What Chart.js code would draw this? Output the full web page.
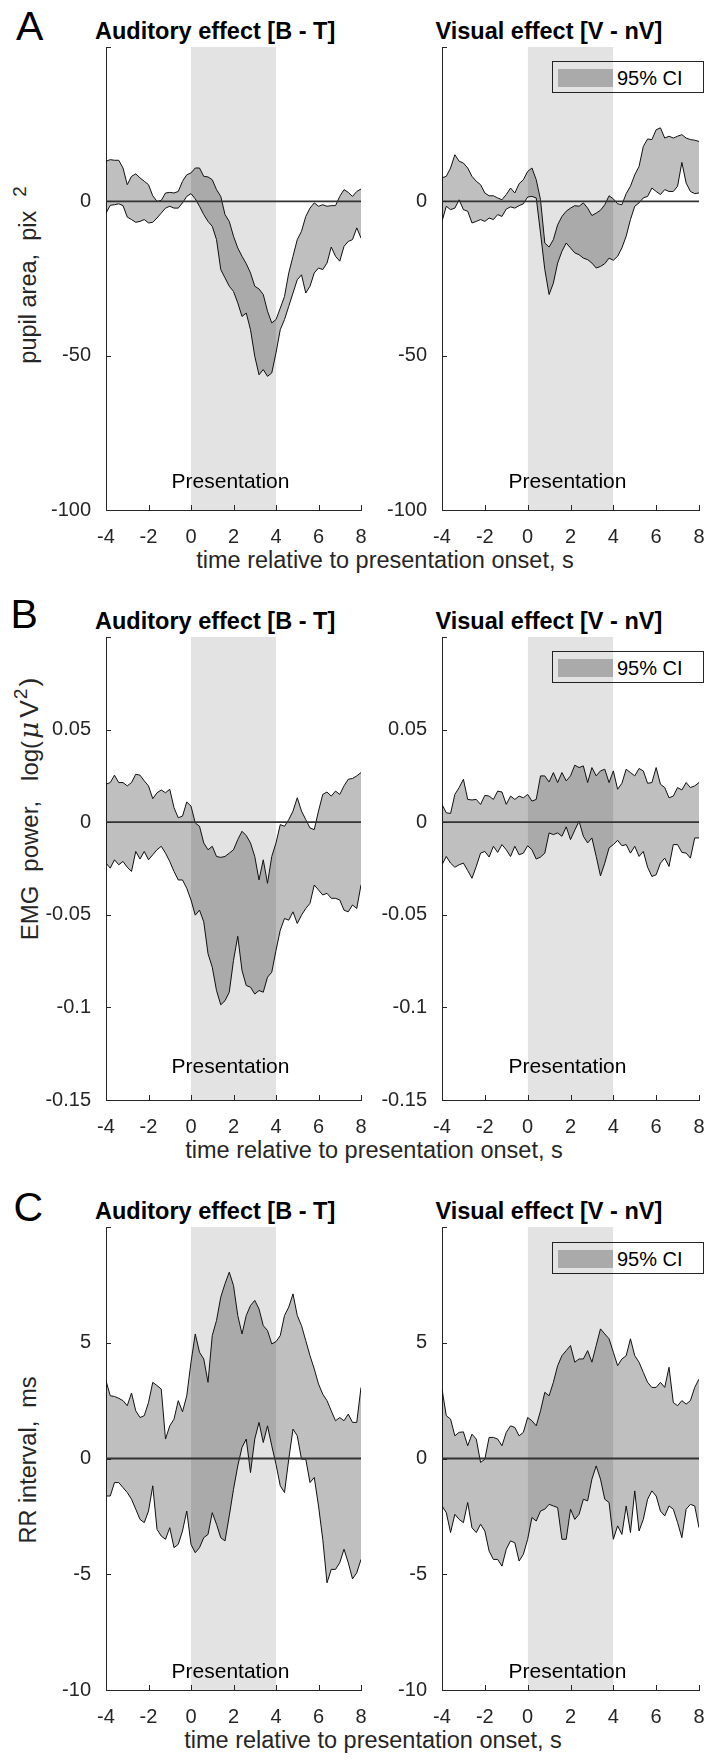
<!DOCTYPE html>
<html>
<head>
<meta charset="utf-8">
<title>Auditory and visual effects</title>
<script src="https://cdn.jsdelivr.net/npm/chart.js@4.4.1/dist/chart.umd.min.js"></script>
<style>
  html, body { margin: 0; padding: 0; background: #fff; }
  body { position: relative; width: 709px; height: 1763px; overflow: hidden;
         font-family: "Liberation Sans", Arial, sans-serif; color: #000; }
  canvas { position: absolute; }
  .txt { position: absolute; white-space: pre; line-height: 1; }
  .letter { font-size: 41px; }
  .title { font-size: 23.5px; font-weight: bold; }
  .xlab { font-size: 23.5px; color: #262626; transform: translateX(-50%); }
  .ylab { font-size: 23.5px; color: #262626; transform: translate(-50%, -50%) rotate(-90deg); }
  .sup { position: relative; top: -0.55em; font-size: 0.8em; }
  .mu { font-family: "DejaVu Serif", serif; font-style: italic; }
  .legend { position: absolute; box-sizing: border-box; width: 152px; height: 32px;
            border: 1px solid #262626; background: #fff; }
  .legend .patch { position: absolute; left: 5px; top: 6.6px; width: 55px; height: 18.4px; background: #bfbfbf; }
  .legend .lt { position: absolute; left: 64px; top: 5.5px; font-size: 20px; line-height: 1; white-space: pre; }
</style>
</head>
<body>

<div class="txt letter" style="left:16px; top:6px;">A</div>
<div class="txt letter" style="left:10.5px; top:594px;">B</div>
<div class="txt letter" style="left:13.5px; top:1187px;">C</div>

<div class="txt title" style="left:95px; top:20px;">Auditory effect [B - T]</div>
<div class="txt title" style="left:435.5px; top:20px;">Visual effect [V - nV]</div>
<div class="txt title" style="left:95px; top:610px;">Auditory effect [B - T]</div>
<div class="txt title" style="left:435.5px; top:610px;">Visual effect [V - nV]</div>
<div class="txt title" style="left:95px; top:1200px;">Auditory effect [B - T]</div>
<div class="txt title" style="left:435.5px; top:1200px;">Visual effect [V - nV]</div>

<div class="txt ylab" style="left:28.7px; top:275px;">pupil area,  pix<span class="sup" style="margin-left:14px;">2</span></div>
<div class="txt ylab" style="left:28.7px; top:809px; font-size:24px;">EMG<span style="margin-left:14px;">power,</span><span style="margin-left:20px;">log(</span><span class="mu" style="margin-left:2px; font-size:1.1em;">μ</span><span style="margin-left:4px; font-size:1.1em;">V</span><span class="sup" style="margin-left:1px;">2</span><span style="margin-left:2px; font-size:1.1em;">)</span></div>
<div class="txt ylab" style="left:28.7px; top:1460px;">RR interval,  ms</div>

<div class="txt xlab" style="left:385px; top:549px;">time relative to presentation onset, s</div>
<div class="txt xlab" style="left:374px; top:1139px;">time relative to presentation onset, s</div>
<div class="txt xlab" style="left:373px; top:1729px;">time relative to presentation onset, s</div>

<div class="legend" style="left:552px; top:61px;"><div class="patch"></div><div class="lt">95% CI</div></div>
<div class="legend" style="left:552px; top:651px;"><div class="patch"></div><div class="lt">95% CI</div></div>
<div class="legend" style="left:552px; top:1242px;"><div class="patch"></div><div class="lt">95% CI</div></div>

<script>
// time axis, seconds relative to presentation onset
const time = [-4, -3.8, -3.6, -3.4, -3.2, -3, -2.8, -2.6, -2.4, -2.2,
              -2, -1.8, -1.6, -1.4, -1.2, -1, -0.8, -0.6, -0.4, -0.2,
              0, 0.2, 0.4, 0.6, 0.8, 1, 1.2, 1.4, 1.6, 1.8,
              2, 2.2, 2.4, 2.6, 2.8, 3, 3.2, 3.4, 3.6, 3.8,
              4, 4.2, 4.4, 4.6, 4.8, 5, 5.2, 5.4, 5.6, 5.8,
              6, 6.2, 6.4, 6.6, 6.8, 7, 7.2, 7.4, 7.6, 7.8, 8];

// A: pupil area, pix^2 (upper / lower 95% CI)
const pupilAudUpper = [13.0, 13.5, 13.3, 13.3, 10.8, 5.4, 8.1, 8.9, 7.6, 6.5,
                       5.4, 1.8, 0.0, 0.3, 2.7, 2.9, 2.7, 3.2, 6.5, 8.6,
                       9.2, 10.8, 10.8, 8.1, 7.9, 7.0, 3.8, 1.6, -4.3, -6.5,
                       -11.3, -15.1, -17.8, -20.2, -23.2, -27.5, -28.4, -30.2, -35.6, -39.4,
                       -38.3, -34.6, -30.8, -23.2, -17.8, -12.4, -9.7, -4.9, -2.2, -0.5,
                       -1.6, -1.1, -1.6, -1.4, -1.4, 1.6, 3.8, 2.9, 1.6, 3.2, 4.0];
const pupilAudLower = [-3.8, -1.3, -1.1, -0.8, -1.4, -5.1, -5.9, -6.8, -6.5, -5.9,
                       -7.0, -6.8, -5.4, -3.8, -2.2, -1.6, -2.2, -2.2, -0.5, 1.6,
                       2.5, 0.8, -1.6, -4.3, -6.5, -8.1, -12.4, -22.1, -24.8, -27.5,
                       -29.2, -32.9, -37.3, -36.2, -41.6, -50.2, -56.2, -54.5, -56.7, -55.6,
                       -49.1, -41.6, -38.3, -34.0, -29.7, -25.4, -23.8, -29.7, -27.5, -23.2,
                       -21.6, -22.1, -20.0, -14.8, -17.8, -19.4, -14.6, -13.0, -12.4, -8.6, -11.9];
const pupilVisUpper = [7.6, 8.1, 10.8, 15.1, 13.0, 12.4, 10.8, 8.1, 6.5, 5.4,
                       2.7, 1.8, 1.8, 1.1, 0.5, 2.2, 4.3, 2.7, 5.7, 7.0,
                       9.7, 10.8, 7.0, 0.5, -13.5, -14.8, -12.4, -7.6, -4.9, -3.2,
                       -2.2, -1.4, -1.6, -0.5, -2.2, -4.6, -3.8, -2.9, -1.1, 1.8,
                       0.8, -0.8, -1.1, 2.5, 4.9, 8.6, 11.3, 17.8, 20.2, 20.0,
                       23.2, 23.8, 20.5, 21.1, 20.5, 21.1, 21.6, 20.5, 20.0, 19.8, 19.4];
const pupilVisLower = [-6.5, -1.6, -2.7, -2.2, 0.5, -2.7, -3.2, -7.0, -6.5, -5.9,
                       -6.5, -5.4, -5.9, -4.3, -4.9, -2.5, -1.8, -2.2, -1.4, -0.8,
                       1.4, 1.6, 1.1, -10.3, -22.1, -30.2, -26.5, -20.0, -16.2, -13.5,
                       -15.1, -16.7, -17.3, -18.4, -18.9, -20.0, -21.6, -21.1, -20.2, -18.4,
                       -19.1, -17.8, -15.1, -11.3, -5.9, -1.6, -0.5, 1.1, 1.6, 4.3,
                       3.2, 2.2, 3.8, 3.2, 3.2, 4.9, 12.6, 5.9, 3.2, 2.5, 2.7];

// B: EMG power, log(uV^2)
const emgAudUpper = [0.0205, 0.0214, 0.0254, 0.0214, 0.0214, 0.0196, 0.0214, 0.0259, 0.0254, 0.0223,
                     0.0196, 0.0127, 0.0159, 0.0174, 0.0159, 0.0178, 0.0078, 0.0024, 0.0033, 0.0109,
                     0.0087, -0.0004, -0.0022, -0.0112, -0.0149, -0.0130, -0.0185, -0.0190, -0.0185, -0.0167,
                     -0.0149, -0.0094, -0.0049, -0.0072, -0.0112, -0.0185, -0.0312, -0.0203, -0.0330, -0.0185,
                     -0.0112, -0.0013, -0.0022, 0.0014, 0.0060, 0.0132, 0.0060, 0.0014, -0.0031, -0.0040,
                     0.0060, 0.0150, 0.0163, 0.0141, 0.0168, 0.0150, 0.0196, 0.0232, 0.0236, 0.0250, 0.0268];
const emgAudLower = [-0.0221, -0.0248, -0.0203, -0.0230, -0.0212, -0.0243, -0.0266, -0.0158, -0.0199, -0.0158,
                     -0.0203, -0.0176, -0.0149, -0.0130, -0.0167, -0.0212, -0.0266, -0.0312, -0.0312, -0.0357,
                     -0.0420, -0.0502, -0.0475, -0.0538, -0.0710, -0.0783, -0.0909, -0.0986, -0.0964, -0.0918,
                     -0.0746, -0.0616, -0.0801, -0.0882, -0.0891, -0.0928, -0.0909, -0.0918, -0.0837, -0.0810,
                     -0.0692, -0.0583, -0.0520, -0.0529, -0.0484, -0.0547, -0.0502, -0.0466, -0.0438, -0.0339,
                     -0.0366, -0.0393, -0.0384, -0.0411, -0.0411, -0.0420, -0.0475, -0.0484, -0.0447, -0.0466, -0.0339];
const emgVisUpper = [0.0096, 0.0051, 0.0047, 0.0150, 0.0187, 0.0232, 0.0123, 0.0120, 0.0123, 0.0096,
                     0.0145, 0.0141, 0.0123, 0.0168, 0.0163, 0.0096, 0.0141, 0.0123, 0.0141, 0.0132,
                     0.0150, 0.0114, 0.0123, 0.0250, 0.0250, 0.0217, 0.0268, 0.0214, 0.0268, 0.0223,
                     0.0250, 0.0308, 0.0295, 0.0304, 0.0214, 0.0295, 0.0250, 0.0277, 0.0286, 0.0214,
                     0.0277, 0.0178, 0.0210, 0.0286, 0.0268, 0.0250, 0.0290, 0.0277, 0.0210, 0.0214,
                     0.0295, 0.0205, 0.0187, 0.0132, 0.0141, 0.0187, 0.0174, 0.0214, 0.0187, 0.0196, 0.0214];
const emgVisLower = [-0.0230, -0.0185, -0.0221, -0.0243, -0.0230, -0.0221, -0.0261, -0.0303, -0.0239, -0.0167,
                     -0.0158, -0.0188, -0.0130, -0.0163, -0.0121, -0.0149, -0.0185, -0.0130, -0.0176, -0.0167,
                     -0.0127, -0.0149, -0.0199, -0.0188, -0.0167, -0.0058, -0.0067, -0.0058, -0.0076, -0.0025,
                     -0.0094, -0.0043, 0.0005, -0.0076, -0.0112, -0.0085, -0.0185, -0.0290, -0.0221, -0.0139,
                     -0.0121, -0.0098, -0.0127, -0.0121, -0.0167, -0.0130, -0.0185, -0.0158, -0.0243, -0.0293,
                     -0.0284, -0.0221, -0.0194, -0.0239, -0.0121, -0.0121, -0.0163, -0.0167, -0.0194, -0.0085, -0.0085];

// C: RR interval, ms
const rrAudUpper = [3.36, 2.71, 2.68, 2.60, 2.50, 2.28, 2.83, 2.06, 1.77, 1.85,
                    2.42, 3.29, 3.15, 3.00, 0.84, 1.41, 1.70, 2.50, 2.02, 2.71,
                    4.16, 5.38, 4.59, 4.30, 3.29, 5.31, 5.96, 6.97, 7.55, 8.05,
                    7.47, 6.18, 5.38, 6.18, 6.61, 6.83, 6.46, 5.74, 5.53, 4.95,
                    5.05, 5.31, 6.18, 6.54, 7.11, 6.18, 5.74, 5.09, 4.44, 3.87,
                    3.22, 2.78, 2.50, 2.06, 1.63, 1.77, 1.63, 1.92, 1.56, 1.56, 3.07];
const rrAudLower = [-1.62, -1.62, -1.04, -1.04, -1.26, -1.47, -1.76, -2.19, -2.63, -2.77,
                    -2.27, -1.18, -3.06, -3.35, -3.49, -2.99, -3.85, -3.71, -3.13, -2.27,
                    -3.71, -4.07, -3.85, -3.42, -3.28, -2.34, -2.84, -3.42, -3.56, -2.48,
                    -1.33, -0.32, 0.48, 0.84, -0.61, 0.84, 1.56, 0.69, 1.41, 0.55,
                    -0.25, -1.18, -1.47, -0.03, 1.27, 0.98, -0.03, -0.03, -1.04, -0.82,
                    -2.05, -3.49, -5.37, -4.79, -4.79, -4.50, -3.92, -4.50, -5.20, -4.94, -4.36];
const rrVisUpper = [3.00, 1.85, 1.70, 0.98, 1.13, 1.15, 0.55, 1.05, 0.84, -0.17,
                    -0.03, 0.91, 0.91, 0.84, 0.55, 1.13, 1.41, 1.34, 0.98, 1.13,
                    1.77, 1.63, 1.41, 2.06, 2.86, 2.71, 3.29, 4.01, 4.44, 4.66,
                    4.88, 4.16, 4.30, 4.30, 4.66, 4.16, 4.88, 5.60, 5.38, 5.17,
                    4.59, 4.01, 4.30, 4.44, 5.17, 4.44, 4.16, 3.72, 3.29, 3.07,
                    3.07, 3.29, 3.07, 3.94, 2.42, 2.28, 2.50, 2.35, 2.50, 3.07, 3.43];
const rrVisLower = [-2.05, -2.34, -3.20, -2.41, -2.63, -2.77, -1.90, -2.99, -3.20, -2.84,
                    -3.13, -4.00, -4.36, -4.36, -4.65, -3.92, -3.56, -3.64, -4.43, -4.14,
                    -3.49, -2.55, -2.70, -2.27, -2.19, -1.98, -2.05, -2.12, -3.49, -3.49,
                    -2.19, -2.63, -2.41, -1.76, -1.83, -0.89, -0.32, -0.89, -1.76, -1.90,
                    -3.49, -2.91, -3.28, -2.05, -3.20, -1.40, -3.13, -2.63, -1.76, -1.40,
                    -1.62, -2.27, -2.48, -2.05, -2.19, -2.77, -3.42, -2.19, -1.98, -2.05, -2.99];

// y ticks per row (top tick has no label)
const pupilTicks = [-100, -50, 0, 50];
const pupilTickLabels = ['-100', '-50', '0', ''];
const emgTicks = [-0.15, -0.1, -0.05, 0, 0.05, 0.1];
const emgTickLabels = ['-0.15', '-0.1', '-0.05', '0', '0.05', ''];
const rrTicks = [-10, -5, 0, 5, 10];
const rrTickLabels = ['-10', '-5', '0', '5', ''];

// presentation window (s)
const presWindow = [0, 4];

Chart.defaults.font.family = '"Liberation Sans", Arial, sans-serif';
Chart.defaults.color = '#262626';

const AX_W = 70, AX_H = 44, PAD_T = 16, PAD_R = 14;

// inward tick marks + "Presentation" label
const panelDecor = {
    id: 'panelDecor',
    afterDatasetsDraw(chart, args, opts) {
        const {ctx, chartArea, scales: {x, y}} = chart;
        ctx.save();
        ctx.strokeStyle = '#262626';
        ctx.lineWidth = 1;
        ctx.beginPath();
        x.ticks.forEach(t => {
            const px = Math.round(x.getPixelForValue(t.value)) + 0.5;
            ctx.moveTo(px, chartArea.bottom);
            ctx.lineTo(px, chartArea.bottom - 5);
        });
        y.ticks.forEach(t => {
            const py = Math.round(y.getPixelForValue(t.value)) + 0.5;
            ctx.moveTo(chartArea.left, py);
            ctx.lineTo(chartArea.left + 5, py);
        });
        ctx.stroke();
        ctx.fillStyle = '#000';
        ctx.font = '21px "Liberation Sans", Arial, sans-serif';
        ctx.textAlign = 'center';
        ctx.textBaseline = 'alphabetic';
        ctx.fillText('Presentation', x.getPixelForValue(opts.labelX) - 3, y.getPixelForValue(opts.labelY));
        ctx.restore();
    }
};

function makePanel(p) {
    const canvas = document.createElement('canvas');
    const w = AX_W + p.width + PAD_R;
    const h = PAD_T + p.height + AX_H;
    canvas.width = w;
    canvas.height = h;
    canvas.style.width = w + 'px';
    canvas.style.height = h + 'px';
    canvas.style.left = (p.left - AX_W) + 'px';
    canvas.style.top = (p.top - PAD_T) + 'px';
    document.body.appendChild(canvas);

    const pts = arr => arr.map((v, i) => ({x: time[i], y: v}));

    new Chart(canvas.getContext('2d'), {
        type: 'line',
        data: {
            datasets: [
                {   // zero line
                    data: [{x: -4, y: 0}, {x: 8, y: 0}],
                    borderColor: '#333', borderWidth: 1.8, pointRadius: 0, fill: false
                },
                {   // upper CI, filled down to lower CI
                    data: pts(p.upper),
                    borderColor: '#111', borderWidth: 1, pointRadius: 0, tension: 0,
                    fill: '+1', backgroundColor: 'rgba(0,0,0,0.25)'
                },
                {
                    data: pts(p.lower),
                    borderColor: '#111', borderWidth: 1, pointRadius: 0, tension: 0, fill: false
                },
                {   // presentation window
                    data: [{x: presWindow[0], y: p.yMax}, {x: presWindow[1], y: p.yMax}],
                    borderWidth: 0, pointRadius: 0, fill: 'start',
                    backgroundColor: 'rgba(0,0,0,0.11)'
                }
            ]
        },
        plugins: [panelDecor],
        options: {
            responsive: false,
            animation: false,
            devicePixelRatio: 1,
            layout: { padding: { left: 0, top: PAD_T, right: PAD_R, bottom: 0 } },
            plugins: {
                legend: { display: false },
                tooltip: { enabled: false },
                panelDecor: { labelX: 2, labelY: p.presY }
            },
            scales: {
                x: {
                    type: 'linear',
                    min: -4,
                    max: 8,
                    afterFit: s => { s.height = AX_H; s.paddingLeft = 0; s.paddingRight = 0; },
                    grid: { display: true, drawOnChartArea: false, drawTicks: false },
                    border: { display: true, color: '#262626', width: 1 },
                    ticks: { stepSize: 2, padding: 15, font: { size: 20 }, maxRotation: 0, autoSkip: false }
                },
                y: {
                    type: 'linear',
                    min: p.yMin,
                    max: p.yMax,
                    afterBuildTicks: s => { s.ticks = p.ticks.map(v => ({value: v})); },
                    afterFit: s => { s.width = AX_W; s.paddingTop = 0; s.paddingBottom = 0; },
                    grid: { display: true, drawOnChartArea: false, drawTicks: false },
                    border: { display: true, color: '#262626', width: 1 },
                    ticks: {
                        padding: 15,
                        font: { size: 20 },
                        autoSkip: false,
                        callback: (v, i) => p.tickLabels[i]
                    }
                }
            }
        }
    });
}

const panels = [
    { left: 106, top: 47, width: 255, height: 463, yMin: -100, yMax: 50,
      ticks: pupilTicks, tickLabels: pupilTickLabels, upper: pupilAudUpper, lower: pupilAudLower, presY: -92.9 },
    { left: 442, top: 47, width: 257, height: 463, yMin: -100, yMax: 50,
      ticks: pupilTicks, tickLabels: pupilTickLabels, upper: pupilVisUpper, lower: pupilVisLower, presY: -92.9 },
    { left: 106, top: 637, width: 255, height: 463, yMin: -0.15, yMax: 0.1,
      ticks: emgTicks, tickLabels: emgTickLabels, upper: emgAudUpper, lower: emgAudLower, presY: -0.1355 },
    { left: 442, top: 637, width: 257, height: 463, yMin: -0.15, yMax: 0.1,
      ticks: emgTicks, tickLabels: emgTickLabels, upper: emgVisUpper, lower: emgVisLower, presY: -0.1355 },
    { left: 106, top: 1227, width: 255, height: 463, yMin: -10, yMax: 10,
      ticks: rrTicks, tickLabels: rrTickLabels, upper: rrAudUpper, lower: rrAudLower, presY: -9.48 },
    { left: 442, top: 1227, width: 257, height: 463, yMin: -10, yMax: 10,
      ticks: rrTicks, tickLabels: rrTickLabels, upper: rrVisUpper, lower: rrVisLower, presY: -9.48 }
];

panels.forEach(makePanel);
</script>
</body>
</html>
